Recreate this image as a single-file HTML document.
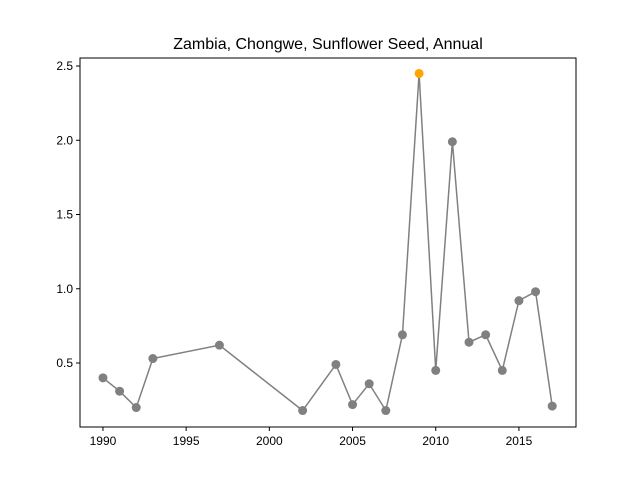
<!DOCTYPE html>
<html><head><meta charset="utf-8"><style>
body{margin:0;background:#fff}
svg{font-family:"Liberation Sans","DejaVu Sans",sans-serif}
</style></head><body>
<svg id="c" width="640" height="480" xmlns="http://www.w3.org/2000/svg">
<rect width="640" height="480" fill="#fff"/>
<text x="328" y="49" font-size="16" text-anchor="middle">Zambia, Chongwe, Sunflower Seed, Annual</text>
<g id="plot"></g>
<rect x="80" y="58" width="496" height="369" fill="none" stroke="#000" stroke-width="1"/>
</svg>
<script>
const years=[1990,1991,1992,1993,1997,2002,2004,2005,2006,2007,2008,2009,2010,2011,2012,2013,2014,2015,2016,2017];
const values=[0.40,0.31,0.20,0.53,0.62,0.18,0.49,0.22,0.36,0.18,0.69,2.45,0.45,1.99,0.64,0.69,0.45,0.92,0.98,0.21];
const xTicks=[1990,1995,2000,2005,2010,2015];
const yTicks=[0.5,1.0,1.5,2.0,2.5];
const highlightYear=2009;
const L=80,R=576,T=58,B=427,x0=1988.62,x1=2018.43,y0=0.069,y1=2.554;
const sx=v=>L+(v-x0)/(x1-x0)*(R-L);
const sy=v=>B-(v-y0)/(y1-y0)*(B-T);
const g=document.getElementById('plot');
const NS='http://www.w3.org/2000/svg';
function mk(t,a){const e=document.createElementNS(NS,t);for(const k in a)e.setAttribute(k,a[k]);g.appendChild(e);return e;}
xTicks.forEach(t=>{
 const l=mk('line',{x1:sx(t),x2:sx(t),y1:B,y2:B+4,stroke:'#000'});
 
 
 const tx=mk('text',{x:sx(t),y:B+18,'font-size':12,'text-anchor':'middle'});tx.textContent=t;
 
 
});
yTicks.forEach(t=>{
 const l=mk('line',{x1:L-4,x2:L,y1:sy(t),y2:sy(t),stroke:'#000'});
 
 
 const tx=mk('text',{x:L-7,y:sy(t)+4,'font-size':12,'text-anchor':'end'});tx.textContent=t.toFixed(1);
 
 
});
const pl=mk('polyline',{points:years.map((y,i)=>sx(y)+','+sy(values[i])).join(' '),fill:'none',stroke:'#808080','stroke-width':1.5});


years.forEach((y,i)=>{
 const c=mk('circle',{cx:sx(y),cy:sy(values[i]),r:4.5,fill:y===highlightYear?'#ffa500':'#808080'});
 
 
});
</script>
</body></html>
